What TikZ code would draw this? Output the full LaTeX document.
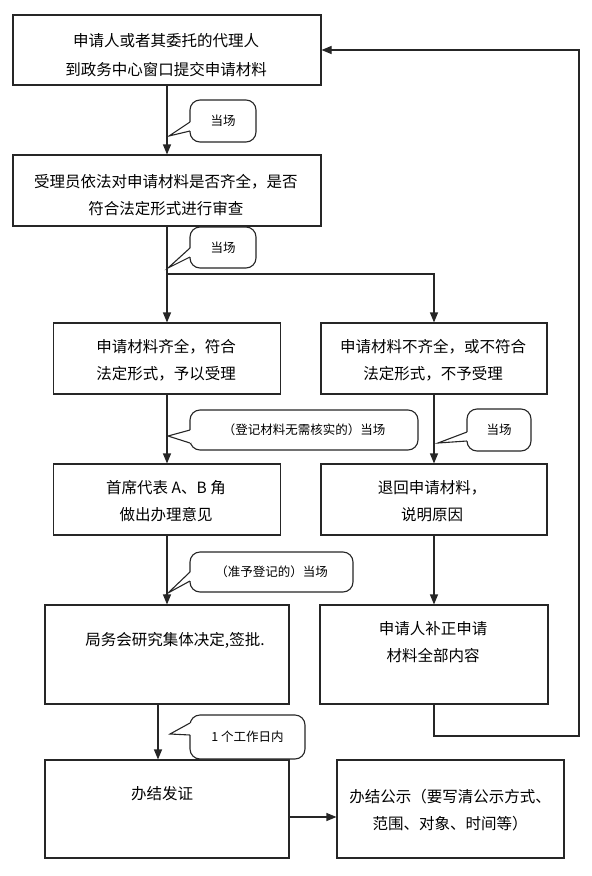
\documentclass[tikz,border=0pt]{standalone}
\usepackage{fontspec}
\newfontfamily\cjk{Noto Sans CJK SC}
\usetikzlibrary{arrows.meta}
\tikzset{
 line/.style={draw=black!85, line width=1.1pt},
 arr/.style={line, -{Triangle[length=10pt,width=8pt]}},
 box/.style={line, rectangle, inner sep=0pt},
 txt/.style={inner sep=0pt, align=center, font=\cjk\fontsize{15.5}{27}\selectfont},
 callout/.style={line, fill=white, rounded corners=10pt, inner sep=0pt, font=\cjk\fontsize{12.5}{15}\selectfont},
}
\newcommand\calwedge[4]{%
  \fill[white] (#1-1.2,#2) rectangle (#1+1.2,#3);
  \draw[line, line join=miter] (#1,#2) -- (#4) -- (#1,#3);
}
\begin{document}
\begin{tikzpicture}[x=1pt,y=-1pt]
\useasboundingbox (0,0) rectangle (592,876);
% boxes
\node[box, minimum width=308pt, minimum height=70pt] (b1) at (167,50) {};
\node[box, minimum width=308pt, minimum height=71pt] (b2) at (167,190.5) {};
\node[box, minimum width=227pt, minimum height=71pt] (b3) at (167,358.5) {};
\node[box, minimum width=226pt, minimum height=71pt] (b4) at (434,358.5) {};
\node[box, minimum width=227pt, minimum height=71pt] (b5) at (167,499.5) {};
\node[box, minimum width=226pt, minimum height=71pt] (b6) at (434,499.5) {};
\node[box, minimum width=244pt, minimum height=99pt] (b7) at (167,654.5) {};
\node[box, minimum width=228pt, minimum height=99pt] (b8) at (434,654.5) {};
\node[box, minimum width=244pt, minimum height=98pt] (b9) at (167,809) {};
\node[box, minimum width=227pt, minimum height=98pt] (b10) at (450.5,809) {};
% texts
\node[txt, font=\cjk\fontsize{15.5}{29}\selectfont] (t1) at (166,55.5) {申请人或者其委托的代理人\\到政务中心窗口提交申请材料};
\node[txt] (t2) at (166,195) {受理员依法对申请材料是否齐全，是否\\符合法定形式进行审查};
\node[txt] (t3) at (166,360.5) {申请材料齐全，符合\\法定形式，予以受理};
\node[txt] (t4) at (433,360.5) {申请材料不齐全，或不符合\\法定形式，不予受理};
\node[txt] (t5) at (166,501.5) {首席代表 A、B 角\\做出办理意见};
\node[txt] (t6) at (432,501.5) {退回申请材料，\\说明原因};
\node[txt] (t7) at (175,640) {局务会研究集体决定,签批.};
\node[txt] (t8) at (433,642) {申请人补正申请\\材料全部内容};
\node[txt] (t9) at (162,794) {办结发证};
\node[txt] (t10) at (450,810.5) {办结公示（要写清公示方式、\\范围、对象、时间等）};
% connectors
\coordinate (br) at (167,274);
\coordinate (r1) at (579,736);
\draw[arr] (b1.south) -- (b2.north);
\draw[arr] (b2.south) -- (b3.north);
\draw[arr] (br) -- (br -| b4.north) -- (b4.north);
\draw[arr] (b3.south) -- (b5.north);
\draw[arr] (b4.south) -- (b6.north);
\draw[arr] (b5.south) -- (b7.north);
\draw[arr] (b6.south) -- (b8.north);
\draw[arr] ([xshift=-9pt]b7.south) -- ([xshift=-9pt]b9.north);
\draw[arr] ([yshift=-8pt]b9.east) -- ([yshift=-8pt]b10.west);
\draw[arr] (b8.south) -- (b8.south |- r1) -- (r1) -- (r1 |- b1.east) -- (b1.east);
% callouts
\node[callout, minimum width=66pt, minimum height=42pt] (c1) at (223,121) {当场};
\calwedge{190}{122}{131}{169,136}
\node[callout, minimum width=66pt, minimum height=41pt] (c2) at (223,247.5) {当场};
\calwedge{190}{248}{257}{168,268}
\node[callout, minimum width=228pt, minimum height=40pt] (c3) at (304,430) {（登记材料无需核实的）当场};
\calwedge{190}{430}{443}{168,436}
\node[callout, minimum width=64pt, minimum height=42pt] (c4) at (499,430) {当场};
\calwedge{467}{432}{441}{438,443}
\node[callout, minimum width=163pt, minimum height=40pt] (c5) at (271.5,572) {（准予登记的）当场};
\calwedge{190}{572}{581}{168,593}
\node[callout, minimum width=115pt, minimum height=44pt] (c6) at (247.5,737) {1 个工作日内};
\calwedge{190}{723}{735}{170,734}
\end{tikzpicture}
\end{document}
